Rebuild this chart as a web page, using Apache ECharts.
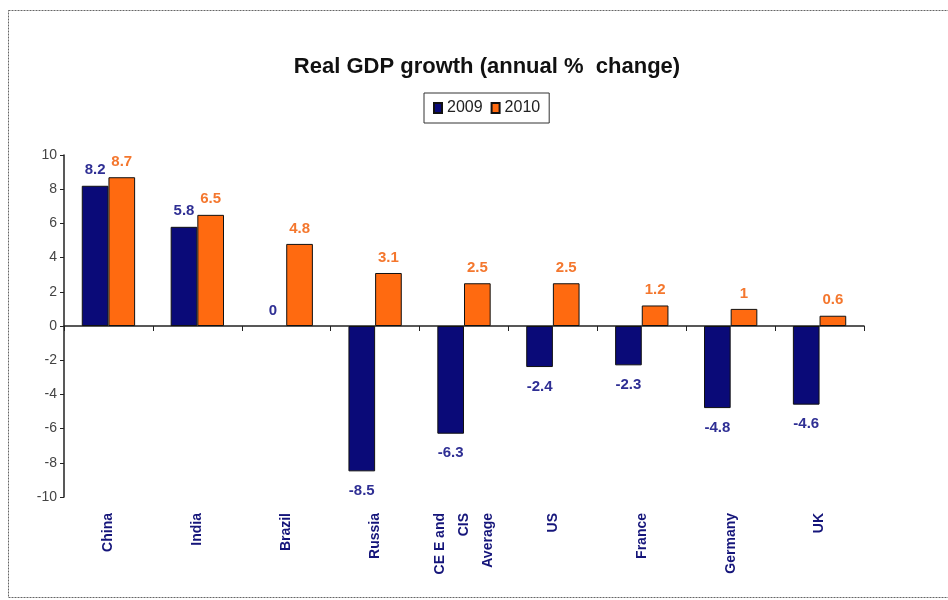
<!DOCTYPE html>
<html>
<head>
<meta charset="utf-8">
<script src="https://cdn.jsdelivr.net/npm/echarts@6/dist/echarts.min.js"></script>
<style>
  html, body { margin: 0; padding: 0; background: #fff; }
  #chart { width: 948px; height: 600px; }
</style>
</head>
<body>
<div id="chart"></div>
<script>
const categories = ['China', 'India', 'Brazil', 'Russia', 'CE E and\nCIS\nAverage', 'US', 'France', 'Germany', 'UK'];
const growth2009 = [8.2, 5.8, 0, -8.5, -6.3, -2.4, -2.3, -4.8, -4.6];
const growth2010 = [8.7, 6.5, 4.8, 3.1, 2.5, 2.5, 1.2, 1, 0.6];
const yTicks = { min: -10, max: 10, interval: 2 };

const navy = '#0a0a78';
const orange = '#ff6a10';

// negative bars get their label underneath, a zero bar gets no outline
function labelled(values) {
  return values.map(function (v) {
    return {
      value: v,
      itemStyle: v === 0 ? { borderWidth: 0 } : undefined,
      label: {
        position: v < 0 ? 'bottom' : 'top',
        distance: v < 0 ? 12 : 8
      }
    };
  });
}

const chart = echarts.init(document.getElementById('chart'));
chart.setOption({
  animation: false,
  backgroundColor: '#fff',
  textStyle: { fontFamily: 'Liberation Sans, Arial, sans-serif' },
  graphic: [
    {
      type: 'rect',
      shape: { x: 8.5, y: 10.5, width: 960, height: 587 },
      style: { fill: 'none', stroke: '#666', lineWidth: 1, lineDash: [2, 1] }
    }
  ],
  title: {
    text: 'Real GDP growth (annual %  change)',
    left: 482,
    textAlign: 'center',
    top: 51,
    textStyle: { fontSize: 22, fontWeight: 'bold', color: '#111' }
  },
  legend: {
    top: 93,
    left: 424,
    padding: [7, 9, 7, 9],
    borderColor: '#333',
    borderWidth: 1,
    itemGap: 8,
    itemWidth: 8,
    itemHeight: 10,
    icon: 'rect',
    textStyle: { fontSize: 16, color: '#222', padding: [0, 0, 0, 0] },
    data: ['2009', '2010']
  },
  grid: { left: 64, right: 84, top: 155, bottom: 103 },
  xAxis: [
    {
      type: 'category',
      data: categories,
      axisLine: { onZero: true, lineStyle: { color: '#222', width: 1.5 } },
      axisTick: { show: true, length: 5, lineStyle: { color: '#222' } },
      axisLabel: { show: false }
    },
    {
      type: 'category',
      data: categories,
      position: 'bottom',
      axisLine: { show: false },
      axisTick: { show: false },
      axisLabel: {
        rotate: 90,
        margin: 16,
        fontSize: 14,
        fontWeight: 'bold',
        color: '#15157a',
        lineHeight: 24
      }
    }
  ],
  yAxis: {
    type: 'value',
    min: yTicks.min,
    max: yTicks.max,
    interval: yTicks.interval,
    splitLine: { show: false },
    axisLine: { show: true, lineStyle: { color: '#222', width: 1.5 } },
    axisTick: { show: true, length: 4, lineStyle: { color: '#222' } },
    axisLabel: { fontSize: 14, color: '#444', margin: 7 }
  },
  series: [
    {
      name: '2009',
      type: 'bar',
      xAxisIndex: 0,
      data: labelled(growth2009),
      barGap: '0%',
      barCategoryGap: '40%',
      itemStyle: { color: navy, borderColor: '#111', borderWidth: 1 },
      label: { show: true, fontSize: 15, fontWeight: 'bold', color: '#2f2f94' }
    },
    {
      name: '2010',
      type: 'bar',
      xAxisIndex: 0,
      data: labelled(growth2010),
      barGap: '0%',
      barCategoryGap: '40%',
      itemStyle: { color: orange, borderColor: '#111', borderWidth: 1 },
      label: { show: true, fontSize: 15, fontWeight: 'bold', color: '#f4772e' }
    }
  ]
});
</script>
</body>
</html>
